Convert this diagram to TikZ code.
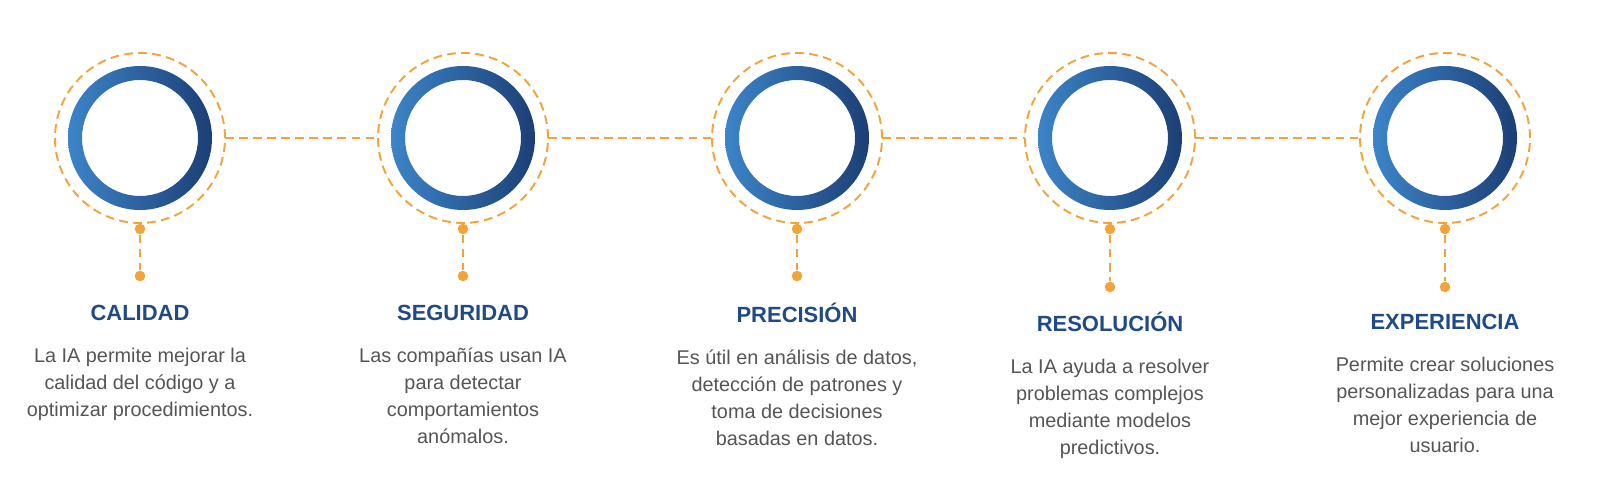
\documentclass[tikz,border=0pt]{standalone}
\usepackage{fontspec}
\setmainfont{Liberation Sans}
\usetikzlibrary{positioning,calc}
\definecolor{ringorange}{HTML}{F2A33A}
\definecolor{titleblue}{HTML}{1F4A85}
\definecolor{bodygray}{HTML}{555555}
\definecolor{ringlight}{HTML}{3C84C8}
\definecolor{ringdark}{HTML}{1C3F75}
\begin{document}
\begin{tikzpicture}[
     dashring/.style = {draw=ringorange, line width=1.1pt, dash pattern=on 5pt off 3pt},
     dot/.style = {circle, fill=ringorange, inner sep=0pt, minimum size=6pt},
     title/.style = {font=\bfseries\fontsize{12.5}{14}\selectfont, text=titleblue},
     body/.style = {font=\fontsize{11.3}{15.3}\selectfont, text=bodygray, align=center}
    ]
    \useasboundingbox (0,0) rectangle (32,-9.94);

    \foreach \n/\x/\ty/\dy/\head/\txt in {
      1/2.80/-6.26/-5.52/CALIDAD/{La IA permite mejorar la\\calidad del código y a\\optimizar procedimientos.},
      2/9.26/-6.26/-5.52/SEGURIDAD/{Las compañías usan IA\\para detectar\\comportamientos\\anómalos.},
      3/15.94/-6.26/-5.52/PRECISIÓN/{Es útil en análisis de datos,\\detección de patrones y\\toma de decisiones\\basadas en datos.},
      4/22.20/-6.44/-5.74/RESOLUCIÓN/{La IA ayuda a resolver\\problemas complejos\\mediante modelos\\predictivos.},
      5/28.90/-6.44/-5.74/EXPERIENCIA/{Permite crear soluciones\\personalizadas para una\\mejor experiencia de\\usuario.}}
    {
      \coordinate (c\n) at (\x,-2.76);
      % ring with gradient
      \shade[left color=ringlight, right color=ringdark, even odd rule]
        (c\n) circle (1.44) (c\n) circle (1.16);
      \draw[dashring] (c\n) circle (1.70);
      \node[dot] (top\n) at (\x,-4.58) {};
      \node[dot] (bot\n) at (\x,\dy) {};
      \draw[dashring] (top\n) -- (bot\n);
      \draw[dashring] ($(c\n)+(0,-1.70)$) -- (top\n);
      \node[title] (head\n) at (\x,\ty) {\head};
      \node[body, below=0.3cm of head\n] (text\n) {\txt};
    }
    \foreach \a/\b in {1/2,2/3,3/4,4/5}
      \draw[dashring] ($(c\a)+(1.70,0)$) -- ($(c\b)+(-1.70,0)$);
\end{tikzpicture}
\end{document}
